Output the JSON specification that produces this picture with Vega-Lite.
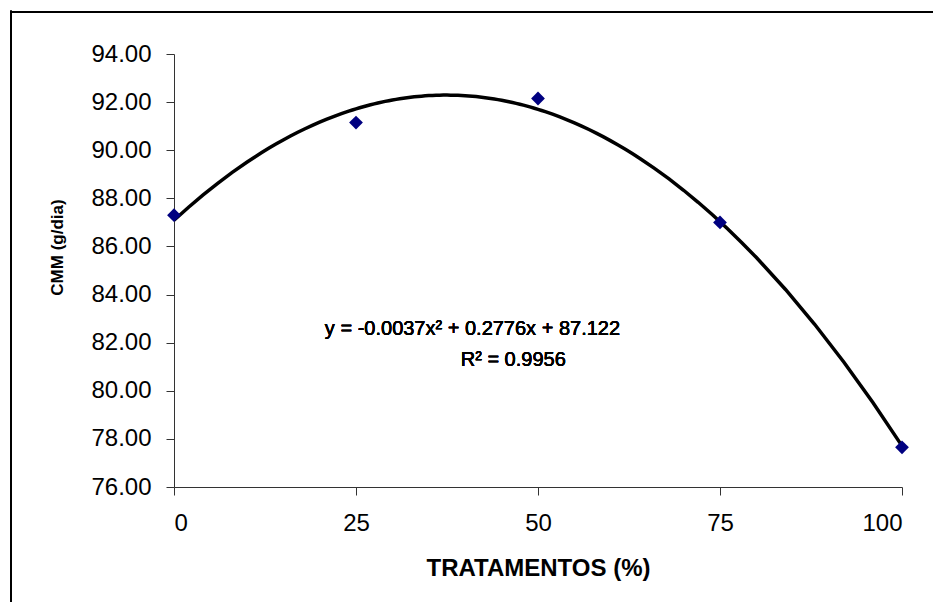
{
  "$schema": "https://vega.github.io/schema/vega-lite/v6.json",
  "autosize": {"type": "none"},
  "padding": {"left": 11, "top": 12, "right": 0, "bottom": 0},
  "width": 922,
  "height": 590,
  "background": "white",
  "config": {
    "view": {"stroke": null, "fill": "white"},
    "axis": {
      "grid": false,
      "domainColor": "#333333",
      "domainWidth": 1,
      "tickColor": "#333333",
      "tickWidth": 1,
      "tickSize": 8,
      "labelFont": "Liberation Sans",
      "labelFontSize": 24,
      "labelColor": "black",
      "titleFont": "Liberation Sans",
      "titleFontWeight": "bold",
      "titleColor": "black"
    }
  },
  "data": {
    "values": [
      {"x": 0, "y": 87.3},
      {"x": 25, "y": 91.15},
      {"x": 50, "y": 92.15},
      {"x": 75, "y": 87.0},
      {"x": 100, "y": 77.65}
    ]
  },
  "layer": [
    {
      "transform": [
        {"regression": "y", "on": "x", "method": "poly", "order": 2, "extent": [0, 100]}
      ],
      "mark": {"type": "line", "color": "black", "strokeWidth": 3.5},
      "encoding": {
        "x": {
          "field": "x", "type": "quantitative",
          "scale": {"domain": [0, 100], "range": [163, 891], "nice": false, "zero": false},
          "axis": {
            "values": [0, 25, 50, 75, 100],
            "format": "d",
            "offset": -115,
            "labelPadding": 16,
            "title": "TRATAMENTOS (%)",
            "titleFontSize": 24,
            "titleY": 81,
            "titleBaseline": "middle"
          }
        },
        "y": {
          "field": "y", "type": "quantitative",
          "scale": {"domain": [76, 94], "range": [475, 42], "nice": false, "zero": false},
          "axis": {
            "values": [76, 78, 80, 82, 84, 86, 88, 90, 92, 94],
            "format": ".2f",
            "offset": -163,
            "labelPadding": 15,
            "title": "CMM (g/dia)",
            "titleFontSize": 17,
            "titleX": -117,
            "titleY": 235,
            "titleBaseline": "middle"
          }
        }
      }
    },
    {
      "mark": {"type": "point", "shape": "diamond", "filled": true, "color": "#000080", "size": 190, "opacity": 1},
      "encoding": {
        "x": {"field": "x", "type": "quantitative"},
        "y": {"field": "y", "type": "quantitative"}
      }
    },
    {
      "mark": {"type": "rule", "color": "black", "strokeWidth": 2},
      "encoding": {
        "x": {"datum": -22.39, "type": "quantitative"},
        "x2": {"datum": 106},
        "y": {"datum": 95.75, "type": "quantitative"}
      }
    },
    {
      "mark": {"type": "rule", "color": "black", "strokeWidth": 2},
      "encoding": {
        "x": {"datum": -22.39, "type": "quantitative"},
        "y": {"datum": 95.8, "type": "quantitative"},
        "y2": {"datum": 70}
      }
    },
    {
      "mark": {"type": "text", "font": "Liberation Sans", "fontSize": 20, "fontWeight": "normal", "align": "center", "baseline": "middle", "color": "black"},
      "encoding": {
        "x": {"datum": 41.0, "type": "quantitative"},
        "y": {"datum": 82.57, "type": "quantitative"},
        "text": {"value": "y = -0.0037x² + 0.2776x + 87.122"}
      }
    },
    {
      "mark": {"type": "text", "font": "Liberation Sans", "fontSize": 20, "fontWeight": "normal", "align": "center", "baseline": "middle", "color": "black"},
      "encoding": {
        "x": {"datum": 46.6, "type": "quantitative"},
        "y": {"datum": 81.28, "type": "quantitative"},
        "text": {"value": "R² = 0.9956"}
      }
    }
  ]
}
